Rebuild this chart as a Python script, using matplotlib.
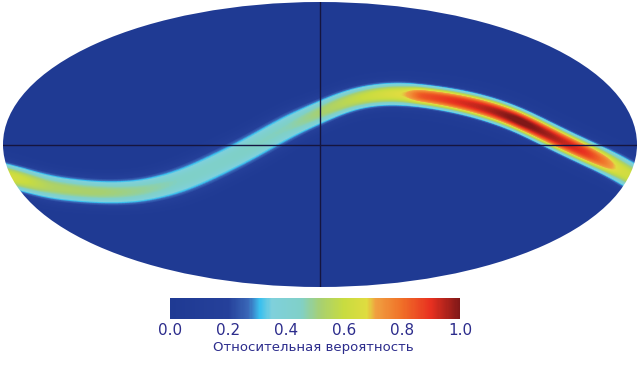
import numpy as np
import matplotlib.pyplot as plt
from matplotlib.colors import LinearSegmentedColormap
from matplotlib.patches import Ellipse

# Ridge of the probability band, in sky coordinates scaled to the ellipse (-1..1)
ridge_x = [-1.05, -0.968, -0.852, -0.694, -0.568, -0.442, -0.338, -0.230, -0.104, 0.0,
           0.104, 0.211, 0.270, 0.315, 0.420, 0.527, 0.631, 0.735, 0.842, 0.900, 0.946, 0.984, 1.05]
ridge_y = [-0.19, -0.228, -0.305, -0.340, -0.333, -0.263, -0.158, -0.039, 0.123, 0.228,
           0.326, 0.361, 0.356, 0.347, 0.312, 0.256, 0.172, 0.053, -0.060, -0.118, -0.165, -0.228, -0.29]
# Relative probability along the ridge
ridge_p = [0.62, 0.62, 0.52, 0.50, 0.47, 0.43, 0.42, 0.43, 0.44, 0.50,
           0.56, 0.63, 0.67, 0.82, 0.88, 0.93, 1.00, 0.94, 0.87, 0.76, 0.63, 0.60, 0.60]
# Half width of the band at value 0.31, in pixels
ridge_w = [11, 11, 10.5, 10, 10, 10, 10, 10, 10, 10,
           10, 10.5, 11, 11, 11.5, 12, 12, 12, 12, 12, 12, 12, 12]

cbar_ticks = [0.0, 0.2, 0.4, 0.6, 0.8, 1.0]
cbar_label = "Относительная вероятность"

cmap_stops = [0.0, 0.20, 0.27, 0.31, 0.35, 0.45, 0.52, 0.60, 0.68, 0.71, 0.80, 0.90, 1.0]
cmap_colors = ["#1f3a93", "#25409a", "#3a68b8", "#3bc0ee", "#7fd0dc", "#80d0c8", "#a8d070",
               "#c8dc40", "#e0dc40", "#f0a040", "#f07028", "#e83020", "#801818"]
cmap = LinearSegmentedColormap.from_list("prob", list(zip(cmap_stops, cmap_colors)))

text_color = "#2c2c8c"
W, H = 640, 365
fig = plt.figure(figsize=(W / 100, H / 100), dpi=100, facecolor="white")

# Sky map
ax = fig.add_axes([3 / W, 1 - 287 / H, 634 / W, 285 / H])
ax.set_xlim(-1, 1)
ax.set_ylim(-1, 1)
ax.axis("off")

xs = np.linspace(-1, 1, 634)
ys = np.linspace(-1, 1, 285)
gx, gy = np.meshgrid(xs, ys)


def smooth(v, n):
    # box filter applied three times, so the knots of the ridge do not show
    for _ in range(3):
        v = np.convolve(np.pad(v, n, mode="reflect", reflect_type="odd"), np.ones(2 * n + 1) / (2 * n + 1), "valid")
    return v


ry = smooth(np.interp(xs, ridge_x, ridge_y), 14)
rp = smooth(np.interp(xs, ridge_x, ridge_p), 3)
rw = smooth(np.interp(xs, ridge_x, ridge_w), 10)

# Distance from the ridge in pixels, across the band
slope = np.gradient(ry * 142.5, xs * 317)
dist = np.abs(gy - ry[None, :]) * 142.5 * np.cos(np.arctan(slope))[None, :]
w = rw / np.log(rp / 0.31) ** (1 / 2.5)
core = rp[None, :] * np.exp(-(dist / w[None, :]) ** 2.5)
# faint blue halo outside the band
halo = 0.26 * np.exp(-(dist / (rw[None, :] + 3)) ** 2)
field = np.maximum(core, halo) + 0.02

im = ax.imshow(field, extent=[-1, 1, -1, 1], origin="lower", cmap=cmap, vmin=0, vmax=1,
               aspect="auto", interpolation="bilinear")
outline = Ellipse((0, 0), 2, 2, transform=ax.transData, fc="none", ec="none")
ax.add_patch(outline)
im.set_clip_path(outline)

ax.plot([-1, 1], [0, 0], color="#15153f", lw=1)
ax.plot([0, 0], [-1, 1], color="#15153f", lw=1)

# Colour bar
cax = fig.add_axes([170 / W, 1 - 319 / H, 290 / W, 21 / H])
cbar = fig.colorbar(im, cax=cax, orientation="horizontal")
cbar.set_ticks(cbar_ticks)
cbar.ax.tick_params(length=0, pad=3, labelsize=11, labelcolor=text_color)
cbar.outline.set_visible(False)
fig.text(313 / W, 1 - 347 / H, cbar_label, ha="center", va="center", fontsize=9.5, color=text_color)

fig.savefig("out.png", dpi=100)
